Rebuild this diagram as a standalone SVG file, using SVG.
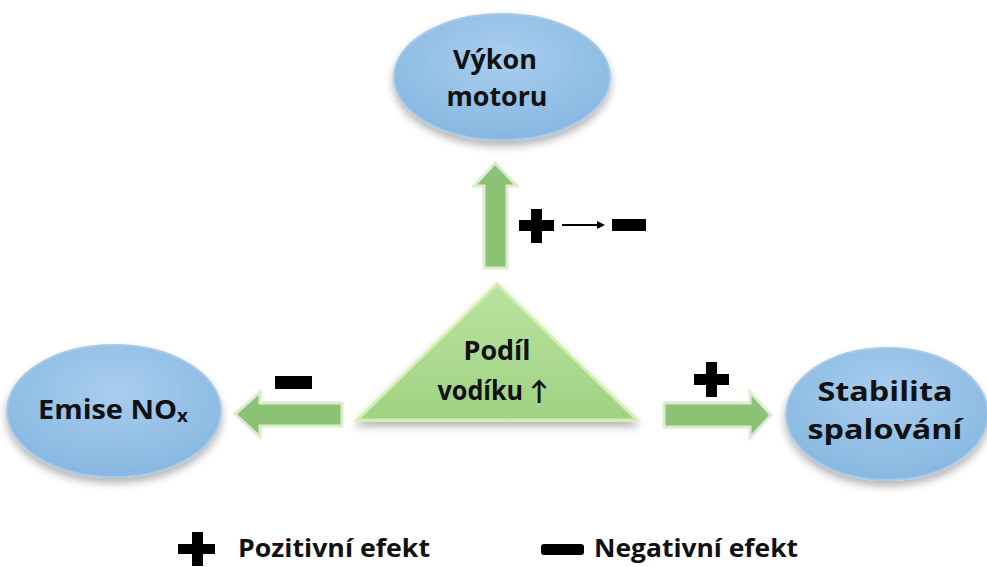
<svg xmlns="http://www.w3.org/2000/svg" width="987" height="567" viewBox="0 0 987 567">
<defs>
<radialGradient id="blue" cx="0.5" cy="0.35" r="0.7">
<stop offset="0" stop-color="#a9cdee"/>
<stop offset="1" stop-color="#84b6e0"/>
</radialGradient>
<linearGradient id="green" x1="0" y1="0" x2="0" y2="1">
<stop offset="0" stop-color="#b9e49f"/>
<stop offset="1" stop-color="#9fd283"/>
</linearGradient>
<filter id="shadow" x="-20%" y="-20%" width="140%" height="150%">
<feGaussianBlur in="SourceAlpha" stdDeviation="4"/>
<feOffset dx="0" dy="5" result="b"/>
<feComponentTransfer><feFuncA type="linear" slope="0.3"/></feComponentTransfer>
<feMerge><feMergeNode/><feMergeNode in="SourceGraphic"/></feMerge>
</filter>
<style>
.node{fill:url(#blue);stroke:#a7c9e8;stroke-width:2;filter:url(#shadow)}
.tri{fill:url(#green);stroke:#d6efb0;stroke-width:3;filter:url(#shadow)}
.arr{fill:#8cc273;stroke:#dcecd2;stroke-width:3;stroke-linejoin:miter}
.t{font-family:"Open Sans",Lato,"Liberation Sans",sans-serif;font-weight:bold;fill:#111;text-anchor:middle;font-size:26px}
.lg{font-family:"Open Sans",Lato,"Liberation Sans",sans-serif;font-weight:bold;fill:#111;font-size:25px}
.blk{fill:#000}
</style>
</defs>
<rect width="987" height="567" fill="#fff"/>
<g id="connectors">
<path class="arr" d="M495,163 L517,186 L507,186 L507,268 L484,268 L484,186 L474,186 Z"/>
<path class="arr" d="M235,414 L260,392 L260,403 L342,403 L342,426 L260,426 L260,437 Z"/>
<path class="arr" d="M771,415 L750,392 L750,403 L664,403 L664,427 L750,427 L750,438 Z"/>
</g>
<g id="node-vykon">
<ellipse class="node" cx="502" cy="77" rx="108" ry="63"/>
<text class="t" x="495" y="69" textLength="84" lengthAdjust="spacingAndGlyphs">Výkon</text>
<text class="t" x="497" y="106" textLength="101" lengthAdjust="spacingAndGlyphs">motoru</text>
</g>
<g id="node-emise">
<ellipse class="node" cx="114" cy="411" rx="107" ry="66"/>
<text class="t" x="113" y="419" textLength="150" lengthAdjust="spacingAndGlyphs">Emise NO<tspan font-size="17" dy="3">x</tspan></text>
</g>
<g id="node-stabilita">
<ellipse class="node" cx="887" cy="414" rx="101" ry="66"/>
<text class="t" x="885" y="401" font-size="27" textLength="135" lengthAdjust="spacingAndGlyphs">Stabilita</text>
<text class="t" x="885" y="439" font-size="27" textLength="155" lengthAdjust="spacingAndGlyphs">spalování</text>
</g>
<g id="node-podil">
<path class="tri" d="M497,284 L637,420 L357,420 Z"/>
<text class="t" x="497" y="360" textLength="67" lengthAdjust="spacingAndGlyphs">Podíl</text>
<text class="t" x="493" y="400" textLength="111" lengthAdjust="spacingAndGlyphs">vodíku ↑</text>
</g>
<g id="signs">
<path class="blk" d="M531,209 h11 v11 h12 v11 h-12 v12 h-11 v-12 h-12 v-11 h12 z"/>
<line x1="562" y1="225" x2="598" y2="225" stroke="#000" stroke-width="2"/>
<path class="blk" d="M597,221 L605,225 L597,229 Z"/>
<rect class="blk" x="612" y="219" width="34" height="12"/>
<rect class="blk" x="275" y="376" width="37" height="13"/>
<path class="blk" d="M706,362 h11 v12 h12 v11 h-12 v12 h-11 v-12 h-12 v-11 h12 z"/>
</g>
<g id="legend">
<path class="blk" d="M192,532 h11 v12 h12 v10 h-12 v12 h-11 v-12 h-14 v-10 h14 z"/>
<text class="lg" x="238" y="557" textLength="192" lengthAdjust="spacingAndGlyphs">Pozitivní efekt</text>
<rect class="blk" x="541" y="544" width="43" height="11" rx="3"/>
<text class="lg" x="594" y="557" textLength="204" lengthAdjust="spacingAndGlyphs">Negativní efekt</text>
</g>
</svg>
